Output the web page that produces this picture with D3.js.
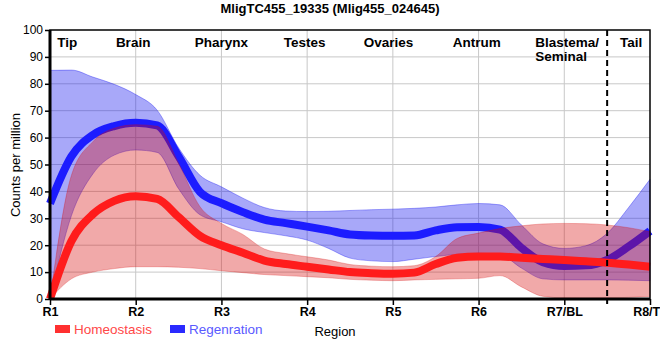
<!DOCTYPE html>
<html><head><meta charset="utf-8">
<script src="https://cdn.jsdelivr.net/npm/d3@7"></script>
<style>
body{margin:0;background:#fff;}
svg{display:block;}
</style></head>
<body><svg id="c" width="660" height="360"></svg>
<script>
const title = "MligTC455_19335 (Mlig455_024645)";
const regionTicks = [1,2,3,4,5,6,7,8];
const regionTickLabels = ["R1","R2","R3","R4","R5","R6","R7/BL","R8/TL"];
const tissueNames = [["Tip"],["Brain"],["Pharynx"],["Testes"],["Ovaries"],["Antrum"],["Blastema/","Seminal"],["Tail"]];
const tissuePos = [1.2,1.97,3.0,3.97,4.95,5.98,7.0,7.78];
const yTicks = [0,10,20,30,40,50,60,70,80,90,100];
const boundary = 7.5;

const pos = [1,1.25,1.5,1.75,2,2.25,2.5,2.75,3,3.25,3.5,3.75,4,4.25,4.5,4.75,5,5.25,5.5,5.75,6,6.25,6.5,6.75,7,7.25,7.5,7.75,8];
const homeoMean = [0,21.5,31.5,36.5,38.2,37.2,30.5,23.5,20,17.2,14.3,13,12,11,10,9.6,9.4,9.8,13,15.3,15.8,15.8,15.3,14.9,14.5,14,13.5,12.8,12];
const homeoUpper = [0,46,58.5,63.5,64.8,64.2,50.5,34.3,28.1,24,18.6,16.9,15.7,14.5,12.8,12.2,12,12.4,15.8,22.5,24.5,26.2,27.2,27.9,28.1,28,27.5,26.5,25];
const homeoLower = [0,7.5,10,11.3,12,12,11.8,11.3,10.5,9.8,9.1,8.7,8.3,7.9,7.3,7,6.8,7.1,7.3,7.5,7.7,8.7,4.5,1,0.4,0.3,0.4,0.6,0.9];
const regenMean = [35.5,53,61,64.3,65.5,64.5,53,39.8,35.6,32.3,29.5,28.2,26.9,25.5,24,23.6,23.5,23.6,25.5,26.7,26.8,25.8,19,13.7,12.3,12.5,14.5,19.5,25.3];
const regenUpper = [85,85.1,82.5,79.8,76,70.2,56.2,46,41.7,37.5,34,32.7,32.5,32.6,32.9,33.2,33.4,33.7,34.2,35,35.5,35,27.5,20.5,18.8,19.8,24.4,34,44.5];
const regenLower = [0,31,46.5,53.5,55.4,54.5,41,31.3,28.7,26.1,24.7,23.5,21.9,18.8,15.2,14.2,13.9,14.8,15.8,16.6,17,16.5,11.5,7.5,7.1,7.1,7.1,7,6.8];

const svg = d3.select("#c");
const X0=50, X1=650, Y0=299, Y1=30;
const x = d3.scaleLinear().domain([1,8]).range([X0,X1]);
const y = d3.scaleLinear().domain([0,100]).range([Y0,Y1]);
const font = "'Liberation Sans', Arial, sans-serif";

// grid
svg.append("g").selectAll("line").data(yTicks.slice(1,-1)).join("line")
  .attr("x1",X0).attr("x2",X1).attr("y1",d=>y(d)).attr("y2",d=>y(d))
  .attr("stroke","#c8c8c8").attr("stroke-width",1);
svg.append("g").selectAll("line").data(regionTicks.slice(1,-1)).join("line")
  .attr("x1",d=>x(d)).attr("x2",d=>x(d)).attr("y1",Y1).attr("y2",Y0)
  .attr("stroke","#c8c8c8").attr("stroke-width",1);

function band(lo, hi){
  return d3.area().x((d,i)=>x(pos[i])).y0((d,i)=>y(lo[i])).y1((d,i)=>y(hi[i])).curve(d3.curveMonotoneX)(pos);
}
function line(v){
  return d3.line().x((d,i)=>x(pos[i])).y((d,i)=>y(v[i])).curve(d3.curveMonotoneX)(pos);
}
// regeneration band + line
svg.append("path").attr("d",band(regenLower,regenUpper))
  .attr("fill","rgb(20,20,240)").attr("fill-opacity",0.37)
  .attr("stroke","rgb(20,20,240)").attr("stroke-opacity",0.45).attr("stroke-width",0.8);
svg.append("path").attr("d",line(regenMean)).attr("fill","none")
  .attr("stroke","#1c1cff").attr("stroke-width",8);
// homeostasis band + line
svg.append("path").attr("d",band(homeoLower,homeoUpper))
  .attr("fill","rgb(215,10,10)").attr("fill-opacity",0.35)
  .attr("stroke","rgb(215,10,10)").attr("stroke-opacity",0.35).attr("stroke-width",0.8);
svg.append("path").attr("d",line(homeoMean)).attr("fill","none")
  .attr("stroke","#ff1c1c").attr("stroke-width",8);

// dashed boundary
svg.append("line").attr("x1",x(boundary)).attr("x2",x(boundary)).attr("y1",Y1).attr("y2",Y0+5)
  .attr("stroke","#000").attr("stroke-width",2).attr("stroke-dasharray","6,4");

// frame
svg.append("rect").attr("x",X0).attr("y",Y1).attr("width",X1-X0).attr("height",Y0-Y1)
  .attr("fill","none").attr("stroke","#000").attr("stroke-width",1.5);
svg.append("line").attr("x1",X0).attr("x2",X0).attr("y1",Y1).attr("y2",Y0).attr("stroke","#000").attr("stroke-width",3);
svg.append("line").attr("x1",X0).attr("x2",X1).attr("y1",Y0).attr("y2",Y0).attr("stroke","#000").attr("stroke-width",3);

// axes
const ya = svg.append("g").attr("transform",`translate(${X0},0)`)
  .call(d3.axisLeft(y).tickValues(yTicks).tickSize(5).tickPadding(2));
ya.select(".domain").remove();
ya.selectAll("line").attr("stroke","#000").attr("stroke-width",1.5);
ya.selectAll("text").attr("font-family",font).attr("font-size",12).attr("fill","#000");

const xa = svg.append("g").attr("transform",`translate(0,${Y0})`)
  .call(d3.axisBottom(x).tickValues(regionTicks).tickFormat((d,i)=>regionTickLabels[i]).tickSize(6).tickPadding(2));
xa.select(".domain").remove();
xa.selectAll("line").attr("stroke","#000").attr("stroke-width",1.5);
xa.selectAll("text").attr("font-family",font).attr("font-size",12.5).attr("font-weight","bold").attr("fill","#000");

// tissue labels
tissueNames.forEach((lines,i)=>{
  lines.forEach((s,j)=>{
    svg.append("text").attr("font-family",font).attr("font-size",13.5).attr("font-weight","bold")
      .attr("fill","#000").attr("text-anchor", lines.length>1 ? "start" : "middle")
      .attr("x", lines.length>1 ? x(tissuePos[i])-29 : x(tissuePos[i]))
      .attr("y", 47 + j*14).text(s);
  });
});

// title
svg.append("text").attr("x",330).attr("y",13).attr("text-anchor","middle")
  .attr("font-family",font).attr("font-size",13).attr("font-weight","bold").text(title);

// y label
svg.append("text").attr("transform","translate(20,165) rotate(-90)").attr("text-anchor","middle")
  .attr("font-family",font).attr("font-size",13).text("Counts per million");

// legend
const legend = [{name:"Homeostasis", rect:"#ff3030", txt:"#ff4848", x:55},{name:"Regenration", rect:"#2a2aff", txt:"#5a5aff", x:170}];
legend.forEach(l=>{
  svg.append("rect").attr("x",l.x).attr("y",325).attr("width",15).attr("height",8).attr("fill",l.rect);
  svg.append("text").attr("x",l.x+19).attr("y",334).attr("font-family",font).attr("font-size",13.5)
    .attr("fill",l.txt).text(l.name);
});
svg.append("text").attr("x",335).attr("y",336).attr("text-anchor","middle")
  .attr("font-family",font).attr("font-size",13).attr("fill","#000").text("Region");
</script></body></html>
